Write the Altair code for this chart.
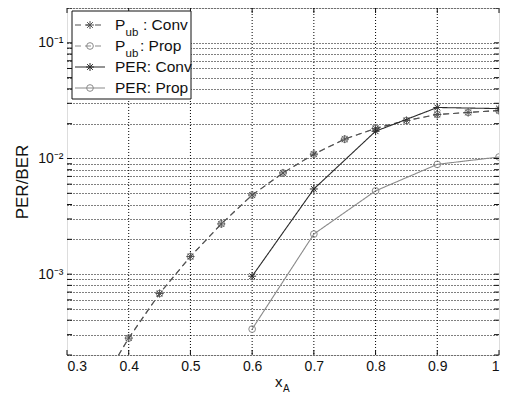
import altair as alt
import pandas as pd

# ---------------- data ----------------
x_pub = [0.35, 0.40, 0.45, 0.50, 0.55, 0.60, 0.65, 0.70, 0.75, 0.80, 0.85, 0.90, 0.95, 1.00]
pub_conv = [1.0e-4, 2.8e-4, 6.8e-4, 1.42e-3, 2.72e-3, 4.83e-3, 7.5e-3, 1.09e-2,
            1.47e-2, 1.82e-2, 2.13e-2, 2.40e-2, 2.50e-2, 2.60e-2]
pub_prop = [1.0e-4, 2.8e-4, 6.8e-4, 1.42e-3, 2.72e-3, 4.83e-3, 7.5e-3, 1.09e-2,
            1.47e-2, 1.82e-2, 2.13e-2, 2.40e-2, 2.50e-2, 2.60e-2]
x_per = [0.6, 0.7, 0.8, 0.9, 1.0]
per_conv = [9.6e-4, 5.45e-3, 1.72e-2, 2.76e-2, 2.70e-2]
per_prop = [3.35e-4, 2.22e-3, 5.25e-3, 8.9e-3, 1.03e-2]

x_ticks = [0.3, 0.4, 0.5, 0.6, 0.7, 0.8, 0.9, 1.0]
x_grid = [0.4, 0.5, 0.6, 0.7, 0.8, 0.9]
y_ticks = [round(m * 10.0 ** e, 12) for e in (-4, -3, -2, -1) for m in range(1, 10)
           if 2e-4 - 1e-12 <= m * 10.0 ** e <= 0.2 + 1e-12]

W, H = 432, 347
FONT = "Liberation Sans"
STAR = "M-1,0L1,0M0,-1L0,1M-0.72,-0.72L0.72,0.72M-0.72,0.72L0.72,-0.72"

xscale = alt.Scale(domain=[0.3, 1.0], nice=False, zero=False)
yscale = alt.Scale(type="log", domain=[2e-4, 0.2], nice=False)

x_axis = alt.Axis(values=x_ticks, format="~g", title=None, ticks=False, domain=False,
                  labelFont=FONT, labelFontSize=14, labelColor="#111", labelPadding=4,
                  grid=False)
y_axis = alt.Axis(values=y_ticks, title="PER/BER", ticks=False, domain=False,
                  labelExpr="abs(datum.value-0.1)<1e-9 ? '10⁻¹' : abs(datum.value-0.01)<1e-10 ? '10⁻²' : abs(datum.value-0.001)<1e-11 ? '10⁻³' : ''",
                  labelFont=FONT, labelFontSize=14, labelColor="#111", labelPadding=4,
                  grid=True, gridColor="#000", gridDash=[1, 2], gridWidth=1, gridOpacity=1,
                  titleFont=FONT, titleFontSize=17, titleFontWeight="normal", titleColor="#111",
                  titleAngle=270, titleAlign="center", titleBaseline="alphabetic",
                  titleX=-40, titleY=H / 2)

X = lambda: alt.X("x:Q", scale=xscale, axis=x_axis)
Y = lambda: alt.Y("y:Q", scale=yscale, axis=y_axis)


def series_layers(xs, ys, color, dash, shape, size):
    df = pd.DataFrame({"x": xs, "y": ys})
    line = alt.Chart(df).mark_line(color=color, strokeWidth=1.1, strokeDash=dash,
                                   clip=True).encode(x=X(), y=Y())
    pts = alt.Chart(df).mark_point(shape=shape, size=size, filled=False, color=color,
                                   strokeWidth=1, opacity=1, clip=True).encode(x=X(), y=Y())
    return [line, pts]


layers = []
layers += series_layers(x_pub, pub_prop, "#8a8a8a", [6, 4], "circle", 45)
layers += series_layers(x_pub, pub_conv, "#505050", [6, 4], STAR, 64)
layers += series_layers(x_per, per_prop, "#8a8a8a", [1, 0], "circle", 45)
layers += series_layers(x_per, per_conv, "#2a2a2a", [1, 0], STAR, 64)

# vertical dotted grid
layers.insert(0, alt.Chart(pd.DataFrame({"x": x_grid})).mark_rule(
    color="#000", strokeDash=[1, 2], strokeWidth=1, opacity=1
).encode(x=X()))

# inward ticks (MATLAB style) on all four sides
ydf = pd.DataFrame({"y": y_ticks})
xdf = pd.DataFrame({"x": x_ticks})
for x0, x1 in [(0, 5), (W - 5, W)]:
    layers.append(alt.Chart(ydf).mark_rule(color="#111", strokeWidth=1).encode(
        y=Y(), x=alt.value(x0), x2=alt.value(x1)))
for y0, y1 in [(H - 5, H), (0, 5)]:
    layers.append(alt.Chart(xdf).mark_rule(color="#111", strokeWidth=1).encode(
        x=X(), y=alt.value(y0), y2=alt.value(y1)))


# ---------------- legend (drawn in the plot corner) ----------------
def text_mark(s, x, y, size, align="left", baseline="middle"):
    return alt.Chart(pd.DataFrame({"t": [s]})).mark_text(
        align=align, baseline=baseline, font=FONT, fontSize=size, color="#111"
    ).encode(x=alt.value(x), y=alt.value(y), text="t:N")


one = pd.DataFrame({"k": [0]})
layers.append(alt.Chart(one).mark_rect(fill="white", stroke="#111", strokeWidth=1).encode(
    x=alt.value(5), x2=alt.value(124), y=alt.value(3), y2=alt.value(91)))

legend_rows = [
    (17, [6, 4], "#505050", STAR, 64),
    (38, [6, 4], "#8a8a8a", "circle", 45),
    (59, [1, 0], "#2a2a2a", STAR, 64),
    (80, [1, 0], "#8a8a8a", "circle", 45),
]
for ry, dash, color, shape, size in legend_rows:
    layers.append(alt.Chart(one).mark_rule(color=color, strokeWidth=1.1, strokeDash=dash).encode(
        x=alt.value(8), x2=alt.value(38), y=alt.value(ry)))
    layers.append(alt.Chart(one).mark_point(shape=shape, size=size, filled=False, color=color,
                                            strokeWidth=1, opacity=1).encode(
        x=alt.value(23), y=alt.value(ry)))

layers.append(text_mark("P", 48, 17, 15.5))
layers.append(text_mark("ub", 58.5, 24.5, 11.5))
layers.append(text_mark(": Conv", 76, 17, 15.5))
layers.append(text_mark("P", 48, 38, 15.5))
layers.append(text_mark("ub", 58.5, 45.5, 11.5))
layers.append(text_mark(": Prop", 73, 38, 15.5))
layers.append(text_mark("PER: Conv", 48, 59, 15.5))
layers.append(text_mark("PER: Prop", 48, 80, 15.5))

# x axis title with subscript
layers.append(text_mark("x", 208, 379, 15, baseline="alphabetic"))
layers.append(text_mark("A", 216, 383.5, 10, baseline="alphabetic"))

chart = alt.layer(*layers).properties(
    width=W, height=H,
    autosize=alt.AutoSizeParams(type="none"),
    padding={"left": 59, "top": 0, "right": 2, "bottom": 39},
).configure_view(stroke="#111", strokeWidth=1.2).configure(background="white")

chart.save("out.html", embed_options={"renderer": "svg", "actions": False})
